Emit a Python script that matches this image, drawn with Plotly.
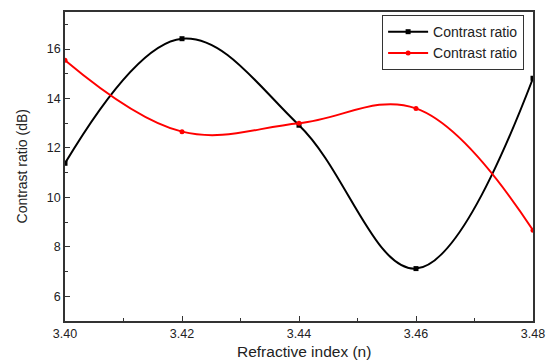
import plotly.graph_objects as go

refractive_index = [3.40, 3.42, 3.44, 3.46, 3.48]
contrast_black = [11.38, 16.42, 12.92, 7.12, 14.82]
contrast_red = [15.55, 12.66, 13.0, 13.6, 8.67]
series_names = ["Contrast ratio", "Contrast ratio"]
x_ticks = [3.40, 3.42, 3.44, 3.46, 3.48]
x_tick_labels = ["3.40", "3.42", "3.44", "3.46", "3.48"]
y_ticks = [6, 8, 10, 12, 14, 16]
x_title = "Refractive index (n)"
y_title = "Contrast ratio (dB)"

fig = go.Figure()
fig.add_trace(go.Scatter(
    x=refractive_index, y=contrast_black, name=series_names[0],
    mode="lines+markers",
    line=dict(color="black", width=2, shape="spline", smoothing=1.1),
    marker=dict(symbol="square", size=5, color="black"),
))
fig.add_trace(go.Scatter(
    x=refractive_index, y=contrast_red, name=series_names[1],
    mode="lines+markers",
    line=dict(color="red", width=2, shape="spline", smoothing=1.1),
    marker=dict(symbol="circle", size=5, color="red"),
))

axis_common = dict(
    showline=True, linecolor="#333", linewidth=1.5, mirror=True,
    ticks="inside", ticklen=5, tickcolor="#333", showgrid=False, zeroline=False,
    tickfont=dict(size=12.5, color="#222"), automargin=False,
)
fig.update_xaxes(
    range=[3.40, 3.48], tickvals=x_ticks, ticktext=x_tick_labels,
    minor=dict(dtick=0.01, tick0=3.40, ticks="inside", ticklen=3, tickcolor="#333"),
    **axis_common,
)
fig.update_yaxes(
    range=[5, 17.5], tickvals=y_ticks,
    minor=dict(dtick=1, tick0=5, ticks="inside", ticklen=3, tickcolor="#333"),
    **axis_common,
)
fig.add_annotation(
    text=x_title, xref="paper", yref="paper", x=0.51, y=-0.1,
    xanchor="center", yanchor="middle", showarrow=False,
    font=dict(size=15.5, color="#222"),
)
fig.add_annotation(
    text=y_title, xref="paper", yref="paper", x=-0.092, y=0.5,
    xanchor="center", yanchor="middle", showarrow=False, textangle=-90,
    font=dict(size=14, color="#222"),
)
fig.update_layout(
    width=541, height=355,
    margin=dict(l=57, r=16, t=4, b=42),
    plot_bgcolor="white", paper_bgcolor="white",
    font=dict(family="Liberation Sans, Arial, sans-serif", color="#222"),
    legend=dict(
        x=0.981, y=0.99, xanchor="right", yanchor="top",
        bgcolor="white", bordercolor="#333", borderwidth=1,
        font=dict(size=14), tracegroupgap=0, itemwidth=40,
    ),
)
fig.write_html("out.html")
